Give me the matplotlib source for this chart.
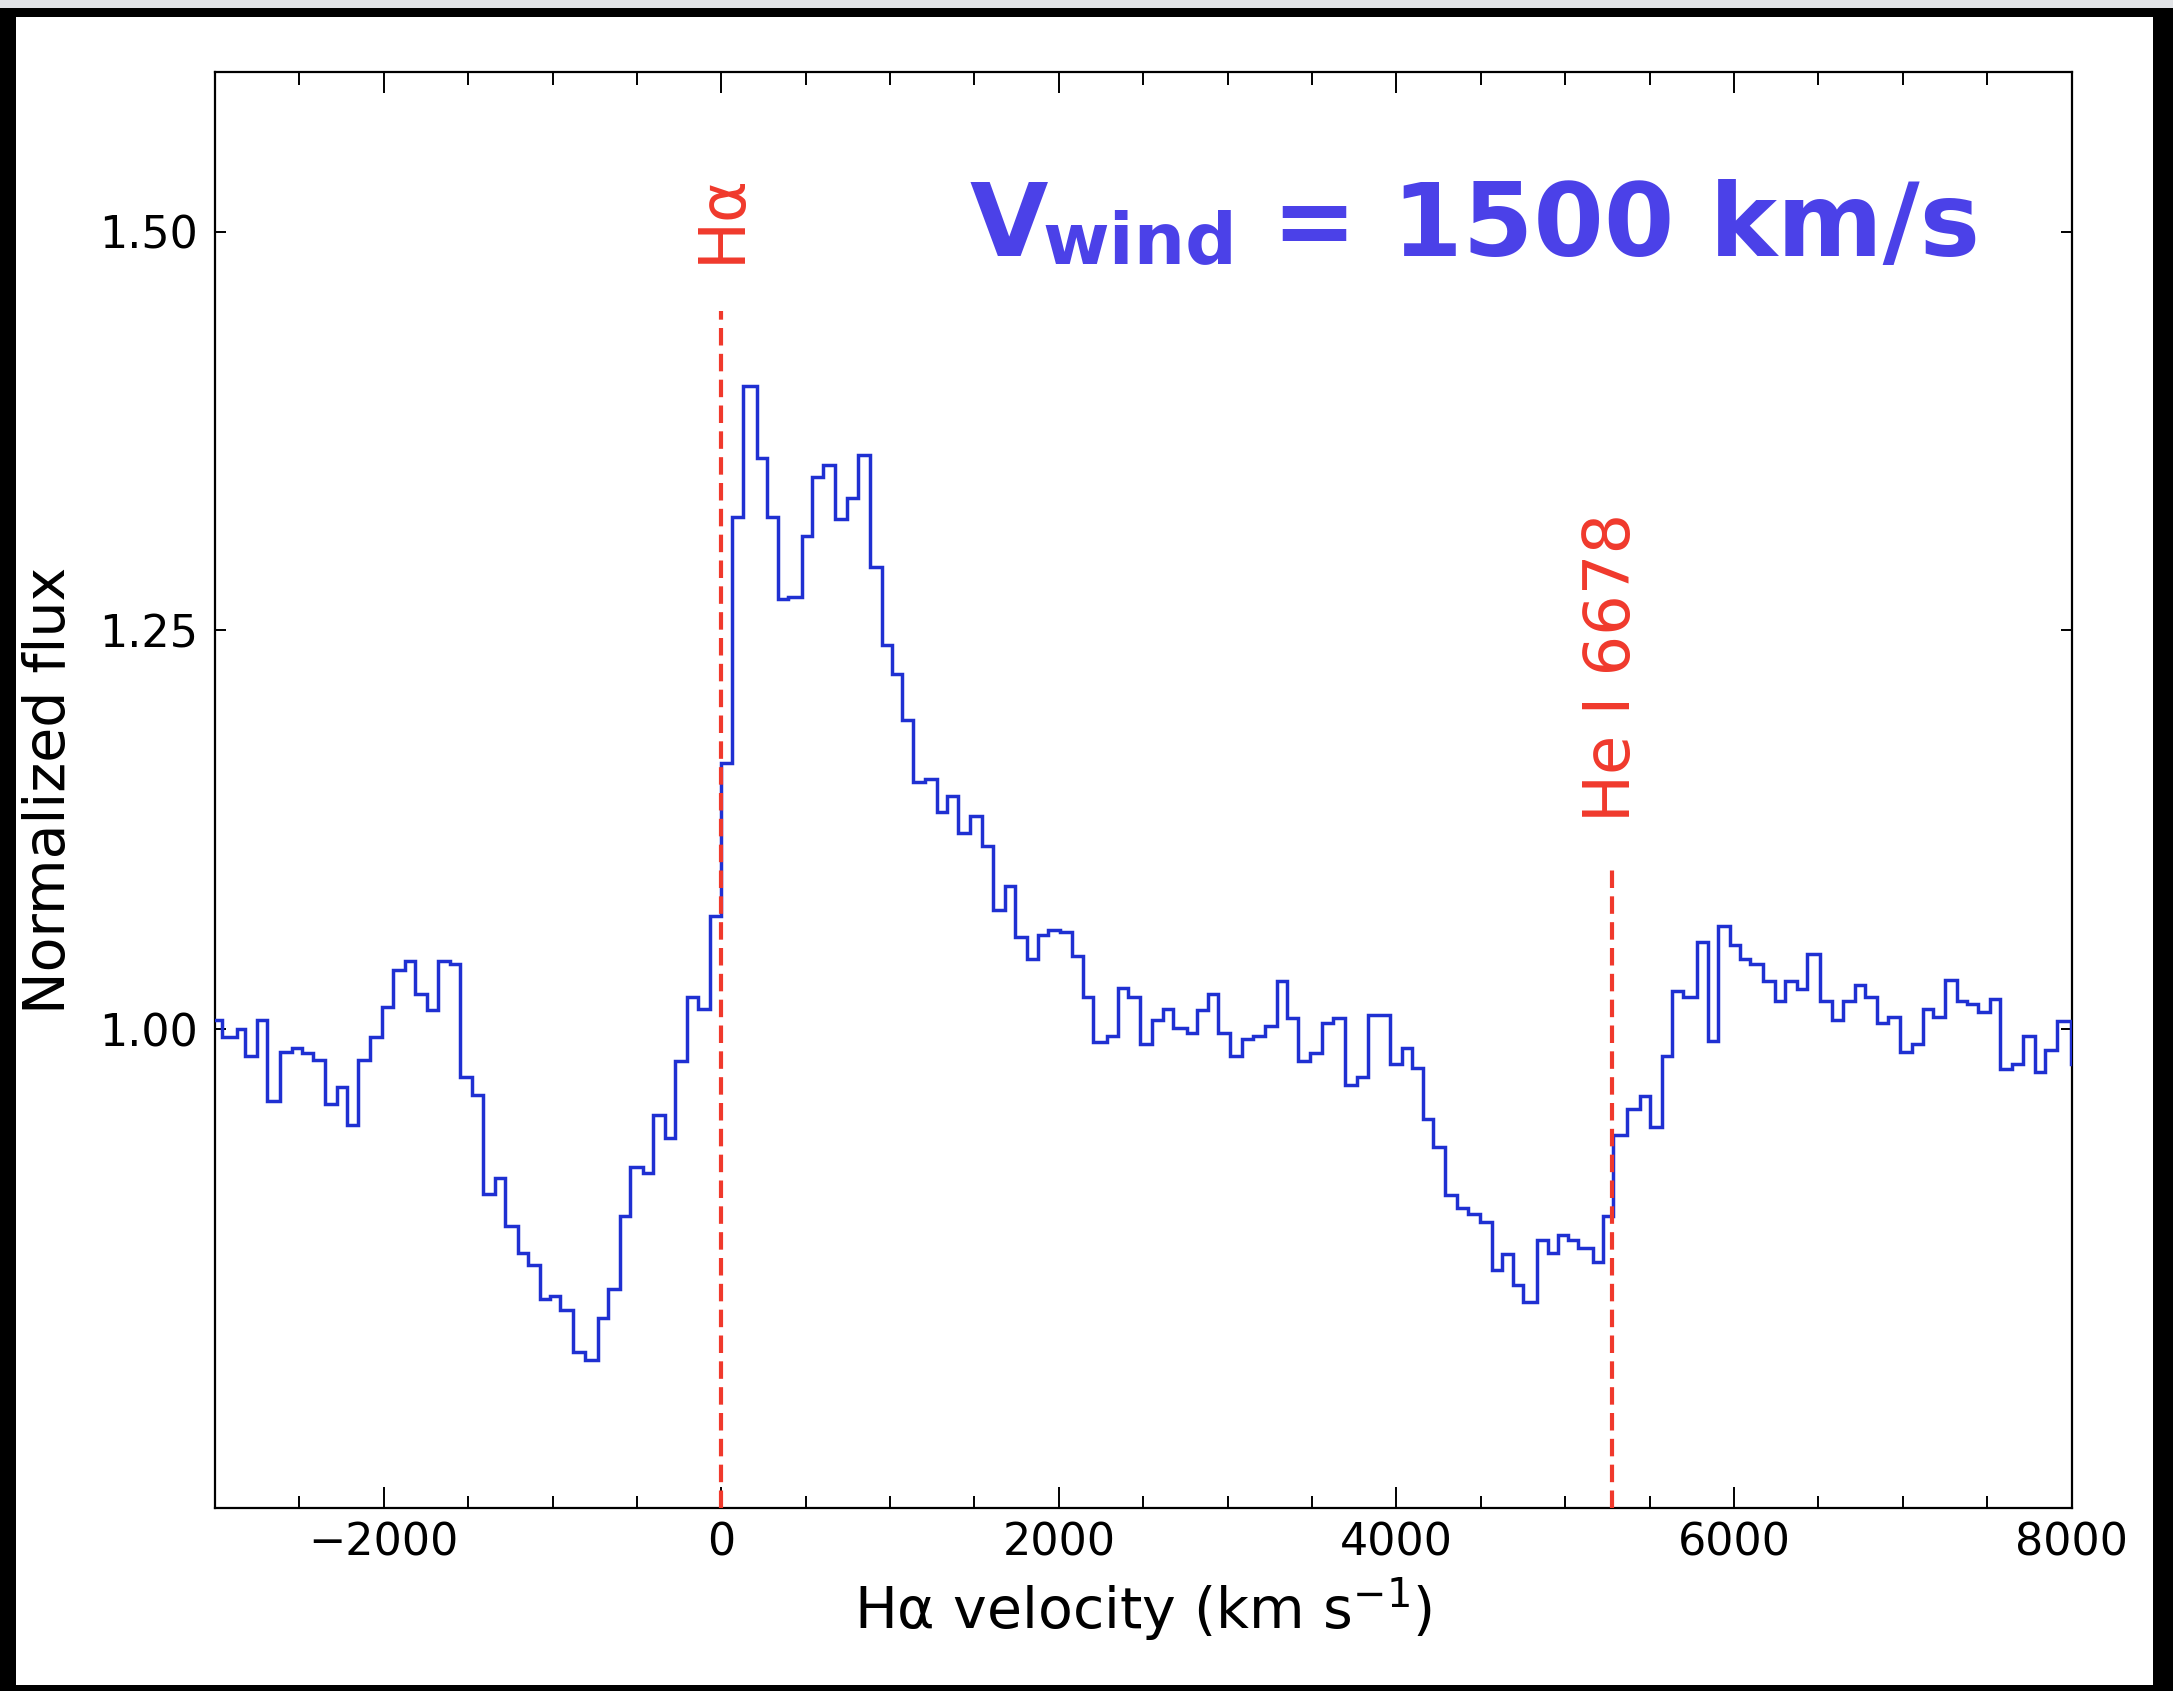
import matplotlib
matplotlib.use("Agg")
import matplotlib.pyplot as plt
from matplotlib.patches import Rectangle
from matplotlib.ticker import FixedLocator, MultipleLocator

# ---------------- data ----------------
velocity_edges = [
    -3040, -2960, -2871, -2822, -2753, -2694, -2615, -2546, -2486, -2418, -2348, -2279, -2220,
    -2151, -2082, -2012, -1943, -1874, -1815, -1746, -1677, -1608, -1548, -1479, -1410, -1341, -1282,
    -1203, -1143, -1074, -1015, -956, -878, -810, -730, -670, -600, -541, -462, -403, -334, -274,
    -205, -136, -67, 0, 63, 127, 210, 269, 338, 397, 476, 536, 604, 674,
    743, 812, 881, 950, 1010, 1069, 1134, 1207, 1276, 1336, 1404, 1474, 1543, 1612, 1681, 1740,
    1810, 1878, 1938, 2007, 2076, 2145, 2204, 2284, 2352, 2412,
    2481, 2550, 2619, 2678, 2758, 2817, 2886, 2945, 3014, 3083, 3152, 3222, 3291, 3350, 3419,
    3488, 3557, 3626, 3696, 3765, 3834, 3962, 4031, 4091, 4160, 4219, 4288,
    4357, 4426, 4496, 4565, 4624, 4693, 4752, 4831, 4900, 4959, 5019, 5078, 5167, 5226, 5285,
    5365, 5443, 5503, 5572, 5631, 5700, 5779, 5848, 5907, 5977, 6036, 6095, 6170,
    6243, 6303, 6372, 6431, 6510, 6579, 6648, 6717, 6777, 6846, 6915, 6984, 7053, 7122, 7182,
    7251, 7320, 7379, 7448, 7517, 7576, 7646, 7715, 7784, 7843, 7912, 7995, 8060,
]
normalized_flux = [
    1.006, 0.995, 1.000, 0.983, 1.006, 0.955, 0.986, 0.988, 0.985, 0.981, 0.953, 0.964, 0.940,
    0.981, 0.995, 1.014, 1.037, 1.043, 1.022, 1.012, 1.043, 1.041, 0.970, 0.959, 0.897, 0.907, 0.877,
    0.860, 0.852, 0.831, 0.833, 0.824, 0.798, 0.793, 0.819, 0.837, 0.883, 0.914, 0.910, 0.946, 0.932,
    0.980, 1.020, 1.013, 1.071, 1.167, 1.321, 1.403, 1.358, 1.321, 1.270, 1.271, 1.309, 1.346, 1.354, 1.320,
    1.333, 1.360, 1.290, 1.241, 1.223, 1.194, 1.155, 1.157, 1.136, 1.146, 1.123, 1.134, 1.115, 1.075,
    1.090, 1.058, 1.044, 1.059, 1.062, 1.061, 1.046, 1.020, 0.992, 0.996, 1.026, 1.020,
    0.991, 1.006, 1.013, 1.001, 0.998, 1.012, 1.022, 0.998, 0.983, 0.994, 0.996, 1.002, 1.030, 1.007,
    0.980, 0.985, 1.004, 1.007, 0.965, 0.970, 1.009, 0.978, 0.988, 0.976, 0.944, 0.926, 0.896,
    0.888, 0.884, 0.879, 0.849, 0.859, 0.840, 0.829, 0.868, 0.860, 0.871, 0.868, 0.863, 0.854, 0.883,
    0.934, 0.950, 0.958, 0.939, 0.983, 1.024, 1.020, 1.055, 0.993, 1.065, 1.053, 1.044, 1.041, 1.030,
    1.018, 1.030, 1.025, 1.047, 1.018, 1.006, 1.018, 1.028, 1.020, 1.004, 1.008, 0.986, 0.991, 1.013,
    1.008, 1.031, 1.018, 1.016, 1.011, 1.019, 0.975, 0.978, 0.996, 0.973, 0.987, 1.005, 0.978,
]

line_names = ["Hα", "He I 6678"]
line_velocities = [0, 5275]
line_tops = [1.45, 1.10]

x_ticks = [-2000, 0, 2000, 4000, 6000, 8000]
x_ticklabels = ["\u22122000", "0", "2000", "4000", "6000", "8000"]
y_ticks = [1.00, 1.25, 1.50]
y_ticklabels = ["1.00", "1.25", "1.50"]

# ---------------- styling ----------------
W, H = 2173, 1691
BLUE = "#1f30d2"
RED = "#f0392c"
TXT_BLUE = "#4b41e8"

plt.rcParams["font.family"] = ["DejaVu Sans"]

fig = plt.figure(figsize=(W / 100, H / 100), dpi=100)
fig.patch.set_facecolor("black")
fig.add_artist(Rectangle((0, 1 - 8 / H), 1, 8 / H, transform=fig.transFigure,
                         facecolor="#e1e3e6", edgecolor="none", zorder=-2))
fig.add_artist(Rectangle((16 / W, 6 / H), (W - 16 - 20) / W, (H - 17 - 6) / H,
                         transform=fig.transFigure, facecolor="white",
                         edgecolor="none", zorder=-1))

ax = fig.add_axes([215 / W, 1 - 1508 / H, (2071.5 - 215) / W, (1508 - 72) / H])
ax.set_facecolor("white")

ax.stairs(normalized_flux, velocity_edges, baseline=None, color=BLUE, lw=2.5, zorder=3)

for name, v, top in zip(line_names, line_velocities, line_tops):
    ax.plot([v, v], [0.7, top], color=RED, lw=3.0, dashes=(4.2, 2.0), zorder=4)
    ax.text(v, top + 0.03, name, rotation=90, ha="center", va="bottom",
            color=RED, fontsize=46)

ax.set_xlim(-3000, 8000)
ax.set_ylim(0.7, 1.6)
ax.xaxis.set_major_locator(FixedLocator(x_ticks))
ax.set_xticklabels(x_ticklabels)
ax.xaxis.set_minor_locator(MultipleLocator(500))
ax.yaxis.set_major_locator(FixedLocator(y_ticks))
ax.set_yticklabels(y_ticklabels)

ax.tick_params(which="both", direction="in", top=True, right=True, width=1.4,
               colors="black")
ax.tick_params(axis="x", which="major", length=15, labelsize=32, pad=10)
ax.tick_params(axis="x", which="minor", length=9)
ax.tick_params(axis="y", which="major", length=8, labelsize=32, pad=12)
for sp in ax.spines.values():
    sp.set_linewidth(1.6)

ax.set_xlabel("Hα velocity (km s$^{-1}$)", fontsize=41, labelpad=8)
ax.set_ylabel("Normalized flux", fontsize=41, labelpad=16)

# annotation "V_wind = 1500 km/s"
fig.text(970 / W, 1 - 256 / H, "V", fontsize=73, fontweight="bold",
         color=TXT_BLUE, ha="left", va="baseline")
fig.text(1042 / W, 1 - 263 / H, "wind", fontsize=52, fontweight="bold",
         color=TXT_BLUE, ha="left", va="baseline")
fig.text(1272 / W, 1 - 256 / H, "= 1500 km/s", fontsize=73, fontweight="bold",
         color=TXT_BLUE, ha="left", va="baseline")

fig.savefig("out.png", dpi=100, facecolor=fig.get_facecolor())
